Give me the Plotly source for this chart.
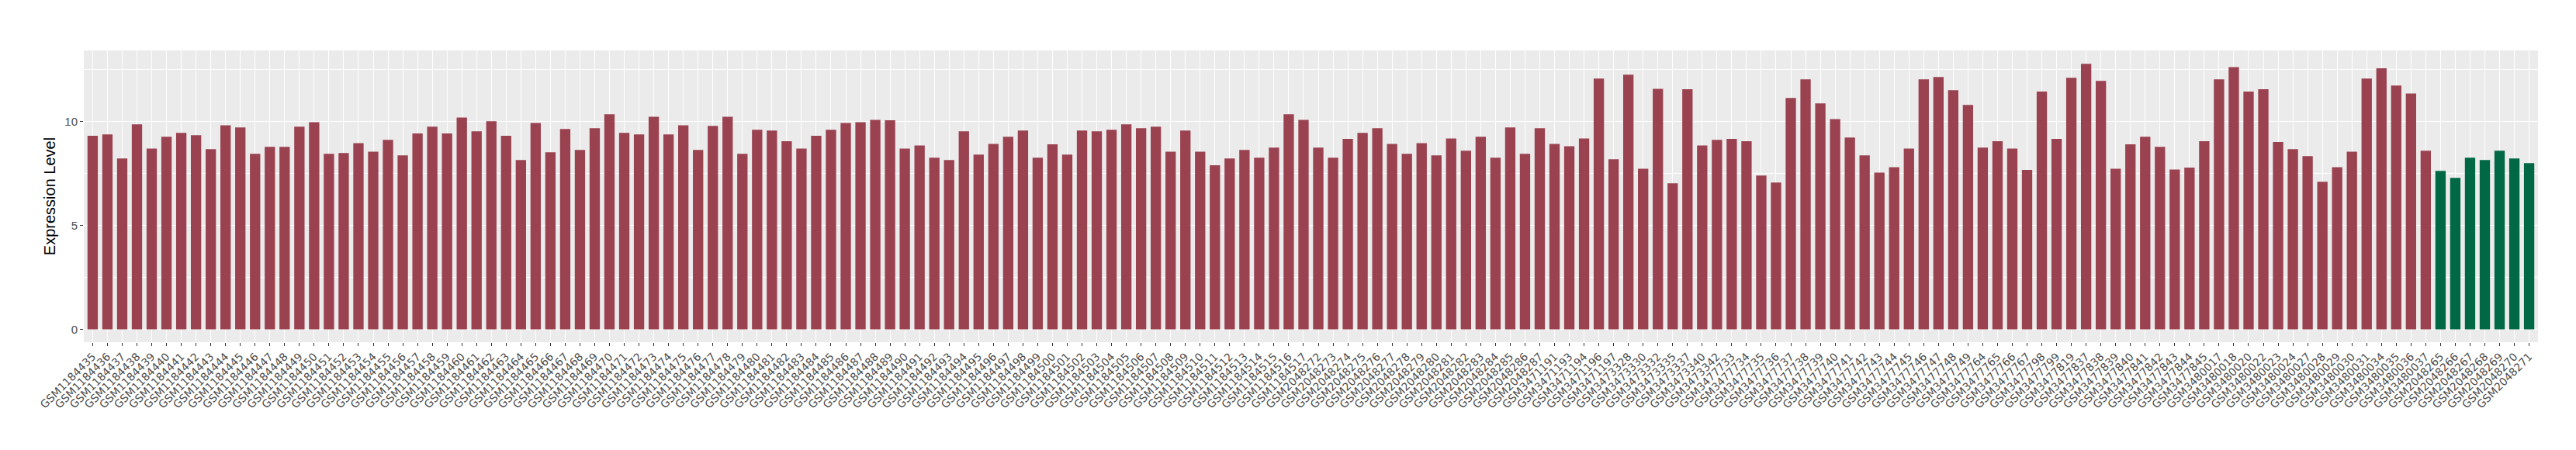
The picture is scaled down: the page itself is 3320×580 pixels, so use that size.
import plotly.graph_objects as go

samples = [
    "GSM1184435", "GSM1184436", "GSM1184437", "GSM1184438", "GSM1184439", "GSM1184440", "GSM1184441", "GSM1184442",
    "GSM1184443", "GSM1184444", "GSM1184445", "GSM1184446", "GSM1184447", "GSM1184448", "GSM1184449", "GSM1184450",
    "GSM1184451", "GSM1184452", "GSM1184453", "GSM1184454", "GSM1184455", "GSM1184456", "GSM1184457", "GSM1184458",
    "GSM1184459", "GSM1184460", "GSM1184461", "GSM1184462", "GSM1184463", "GSM1184464", "GSM1184465", "GSM1184466",
    "GSM1184467", "GSM1184468", "GSM1184469", "GSM1184470", "GSM1184471", "GSM1184472", "GSM1184473", "GSM1184474",
    "GSM1184475", "GSM1184476", "GSM1184477", "GSM1184478", "GSM1184479", "GSM1184480", "GSM1184481", "GSM1184482",
    "GSM1184483", "GSM1184484", "GSM1184485", "GSM1184486", "GSM1184487", "GSM1184488", "GSM1184489", "GSM1184490",
    "GSM1184491", "GSM1184492", "GSM1184493", "GSM1184494", "GSM1184495", "GSM1184496", "GSM1184497", "GSM1184498",
    "GSM1184499", "GSM1184500", "GSM1184501", "GSM1184502", "GSM1184503", "GSM1184504", "GSM1184505", "GSM1184506",
    "GSM1184507", "GSM1184508", "GSM1184509", "GSM1184510", "GSM1184511", "GSM1184512", "GSM1184513", "GSM1184514",
    "GSM1184515", "GSM1184516", "GSM1184517",
    "GSM2048272", "GSM2048273", "GSM2048274", "GSM2048275", "GSM2048276", "GSM2048277", "GSM2048278", "GSM2048279",
    "GSM2048280", "GSM2048281", "GSM2048282", "GSM2048283", "GSM2048284", "GSM2048285", "GSM2048286", "GSM2048287",
    "GSM3471191", "GSM3471193", "GSM3471194", "GSM3471196", "GSM3471197",
    "GSM3473328", "GSM3473330", "GSM3473332", "GSM3473335", "GSM3473337", "GSM3473340", "GSM3473342",
    "GSM3477733", "GSM3477734", "GSM3477735", "GSM3477736", "GSM3477737", "GSM3477738", "GSM3477739", "GSM3477740",
    "GSM3477741", "GSM3477742", "GSM3477743", "GSM3477744", "GSM3477745", "GSM3477746", "GSM3477747", "GSM3477748",
    "GSM3477749", "GSM3477764", "GSM3477765", "GSM3477766", "GSM3477767", "GSM3477798", "GSM3477799", "GSM3477819",
    "GSM3477837", "GSM3477838", "GSM3477839", "GSM3477840", "GSM3477841", "GSM3477842", "GSM3477843", "GSM3477844",
    "GSM3477845",
    "GSM3480017", "GSM3480018", "GSM3480020", "GSM3480022", "GSM3480023", "GSM3480024", "GSM3480027", "GSM3480028",
    "GSM3480029", "GSM3480030", "GSM3480031", "GSM3480034", "GSM3480035", "GSM3480036", "GSM3480037",
    "GSM2048265", "GSM2048266", "GSM2048267", "GSM2048268", "GSM2048269", "GSM2048270", "GSM2048271",
]

expression = [
    9.31, 9.38, 8.22, 9.86, 8.70, 9.27, 9.45, 9.34, 8.67, 9.82, 9.71, 8.44, 8.78, 8.78, 9.75, 9.97,
    8.44, 8.48, 8.96, 8.55, 9.12, 8.37, 9.42, 9.75, 9.42, 10.19,
    9.53, 10.01, 9.31, 8.15, 9.93, 8.52, 9.64, 8.63, 9.68, 10.35, 9.45, 9.38, 10.23, 9.38, 9.82,
    8.63, 9.79, 10.23, 8.44, 9.60, 9.56, 9.05, 8.70, 9.31, 9.60, 9.93, 9.97, 10.08, 10.06,
    8.70, 8.85, 8.26, 8.15, 9.53, 8.41, 8.92, 9.27, 9.56, 8.26, 8.90, 8.41, 9.56, 9.53, 9.60,
    9.86, 9.68, 9.75, 8.55, 9.56, 8.55, 7.89, 8.22, 8.63, 8.26, 8.74, 10.35, 10.08, 8.74,
    8.26, 9.16, 9.45, 9.68, 8.92, 8.44, 8.96, 8.37, 9.18, 8.59, 9.27, 8.26, 9.71, 8.44, 9.68,
    8.92, 8.81, 9.18, 12.07, 8.18, 12.25, 7.73, 11.57, 7.03, 11.55, 8.85, 9.12, 9.16, 9.05,
    7.40, 7.06, 11.13, 12.03, 10.87, 10.12, 9.23, 8.37, 7.54, 7.80, 8.70, 12.03, 12.14, 11.51,
    10.80, 8.74, 9.05, 8.70, 7.67, 11.44, 9.16, 12.10, 12.78, 11.95, 7.73, 8.90, 9.27, 8.78, 7.69,
    7.78, 9.05, 12.03, 12.62, 11.44, 11.55, 9.01, 8.67, 8.33, 7.10, 7.80, 8.55, 12.07, 12.56,
    11.73, 11.35, 8.59,
    7.62, 7.29, 8.26, 8.15, 8.59, 8.22, 8.00,
]

groups = ["tumor"] * 159 + ["normal"] * 7

group_colors = {"tumor": "#9B4251", "normal": "#006845"}

fig = go.Figure()
fig.add_trace(go.Bar(
    x=samples,
    y=expression,
    marker=dict(color=[group_colors[g] for g in groups], line=dict(width=0)),
    showlegend=False,
))

fig.update_layout(
    width=3320,
    height=580,
    margin=dict(l=100, r=57, t=57, b=147),
    paper_bgcolor="white",
    plot_bgcolor="#EBEBEB",
    bargap=0.3,
    font=dict(family="Liberation Sans, Arial, sans-serif", color="#4D4D4D"),
)

fig.update_xaxes(
    type="category",
    categoryorder="array",
    categoryarray=samples,
    range=[-0.6, len(samples) - 0.4],
    tickangle=-45,
    tickfont=dict(family="DejaVu Sans", size=14, color="#4D4D4D"),
    showgrid=True,
    gridcolor="white",
    gridwidth=1.1,
    ticks="outside",
    ticklen=4,
    tickwidth=1,
    tickcolor="#333333",
    showline=False,
    zeroline=False,
)

fig.update_yaxes(
    range=[-0.62, 13.42],
    tickvals=[0, 5, 10],
    ticktext=["0", "5", "10"],
    tickfont=dict(family="Liberation Sans, Arial, sans-serif", size=15, color="#4D4D4D"),
    showgrid=True,
    gridcolor="white",
    gridwidth=1.1,
    minor=dict(tickvals=[2.5, 7.5, 12.5], showgrid=True, gridcolor="white", gridwidth=0.5, ticks=""),
    ticks="outside",
    ticklen=4,
    tickwidth=1,
    tickcolor="#333333",
    zeroline=False,
    showline=False,
    title=dict(text="Expression Level", font=dict(family="Liberation Sans, Arial, sans-serif", size=20, color="black"), standoff=6),
)

fig.write_html("out.html")
